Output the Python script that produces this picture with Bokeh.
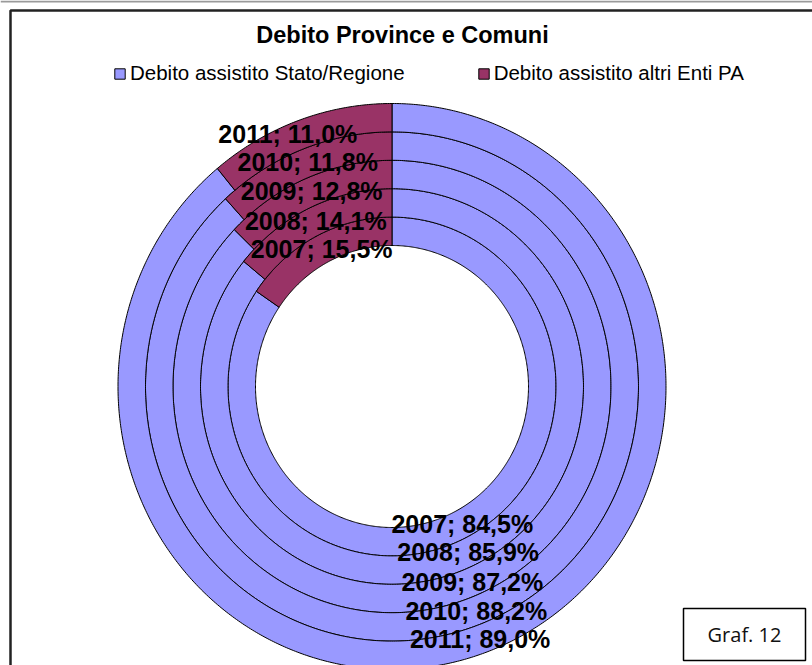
import numpy as np
from bokeh.plotting import figure
from bokeh.models import Range1d, Legend, LegendItem, ColumnDataSource, Label
from bokeh.embed import file_html
from bokeh.resources import INLINE
from bokeh.core.properties import value

# ---------------- data ----------------
title = "Debito Province e Comuni"
years = [2007, 2008, 2009, 2010, 2011]
stato_regione = [84.5, 85.9, 87.2, 88.2, 89.0]
altri_enti = [15.5, 14.1, 12.8, 11.8, 11.0]
series_names = ["Debito assistito Stato/Regione", "Debito assistito altri Enti PA"]
note = "Graf. 12"

# ---------------- style / geometry ----------------
colors = ["#9999FF", "#993366"]
W, H = 812, 665
CX, CY = 391.5, 386.0
RX_IN, RX_OUT = 136.5, 274.0
RY_IN, RY_OUT = 141.0, 283.0
label_dx = {(1, 2011): -16}

p = figure(width=W, height=H, x_range=Range1d(0, W), y_range=Range1d(H, 0),
           output_backend="svg", toolbar_location=None, min_border=0,
           x_axis_location=None, y_axis_location=None, outline_line_color=None,
           background_fill_color="white", border_fill_color="white")
p.grid.visible = False

# outer frame
p.segment(x0=[0], y0=[1], x1=[W], y1=[1], line_color="#9a9a9a", line_width=2)
p.quad(left=[10], right=[W + 60], top=[10], bottom=[H + 60], fill_color=None,
       line_color="#222222", line_width=2.5)

n = len(years)
wx = (RX_OUT - RX_IN) / n
wy = (RY_OUT - RY_IN) / n


def sector(i, a0, a1):
    t = np.radians(np.linspace(a0, a1, int(abs(a1 - a0) * 2) + 3))
    rxo, rxi = RX_IN + (i + 1) * wx, RX_IN + i * wx
    ryo, ryi = RY_IN + (i + 1) * wy, RY_IN + i * wy
    xs = np.concatenate([CX + rxo * np.sin(t), CX + rxi * np.sin(t[::-1])])
    ys = np.concatenate([CY - ryo * np.cos(t), CY - ryi * np.cos(t[::-1])])
    return list(xs), list(ys)


series = [stato_regione, altri_enti]
renderers = []
lab_x, lab_y, lab_t = [], [], []
for s, vals in enumerate(series):
    xs_all, ys_all = [], []
    for i, yr in enumerate(years):
        total = stato_regione[i] + altri_enti[i]
        start = sum(series[k][i] for k in range(s)) / total * 360.0
        end = start + vals[i] / total * 360.0
        xs, ys = sector(i, start, end)
        xs_all.append(xs)
        ys_all.append(ys)
        mid = np.radians((start + end) / 2)
        rx = RX_IN + (i + 0.5) * wx
        ry = RY_IN + (i + 0.5) * wy
        lab_x.append(CX + rx * np.sin(mid) + label_dx.get((s, yr), 0))
        lab_y.append(CY - ry * np.cos(mid))
        lab_t.append(f"{yr}; {vals[i]:.1f}%".replace(".", ","))
    r = p.patches(xs=xs_all, ys=ys_all, fill_color=colors[s], line_color="black",
                  line_width=1)
    renderers.append(r)

src = ColumnDataSource(dict(x=lab_x, y=lab_y, t=lab_t))
p.text(x="x", y="y", text="t", source=src, text_align="center", text_baseline="middle",
       text_font=value("Liberation Sans"), text_font_style="bold",
       text_font_size="25px", text_color="black")

p.add_layout(Label(x=402, y=34, text=title, text_align="center", text_baseline="middle",
                   text_font="Liberation Sans", text_font_style="bold",
                   text_font_size="23.5px", text_color="black"))

legend = Legend(items=[LegendItem(label=series_names[k], renderers=[renderers[k]])
                       for k in range(2)],
                orientation="horizontal", location=(113, H - 85),
                label_text_font="Liberation Sans", label_text_font_size="20.5px",
                label_text_color="black",
                glyph_width=13, glyph_height=13, label_standoff=4, spacing=72,
                padding=0, margin=0, border_line_alpha=0, background_fill_alpha=0)
p.add_layout(legend)

# note box
p.quad(left=[683], right=[805], top=[608], bottom=[660], fill_color="white",
       line_color="black", line_width=1.5)
p.text(x=[744], y=[634], text=[note], text_align="center", text_baseline="middle",
       text_font=value("Open Sans"), text_font_size="20px", text_color="#111111")

open("out.html", "w").write(file_html(p, INLINE))
